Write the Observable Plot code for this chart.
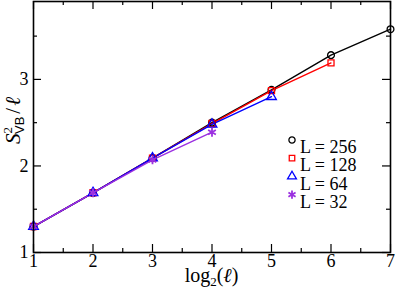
<!DOCTYPE html>
<html><head><meta charset="utf-8">
<script src="https://cdn.jsdelivr.net/npm/d3@7"></script>
<script src="https://cdn.jsdelivr.net/npm/@observablehq/plot@0.6"></script>
<style>
body{margin:0;background:#fff;}
svg text, svg tspan{font-family:'Liberation Serif', serif !important;}
svg tspan.sans{font-family:'Liberation Sans', sans-serif !important;}
</style>
</head><body><div id="chart"></div>
<script>
const xs = [1, 2, 3, 4, 5, 6, 7];
const seriesNames = ["L = 256", "L = 128", "L = 64", "L = 32"];
const s256 = [1.30, 1.69, 2.09, 2.50, 2.88, 3.28, 3.58];
const s128 = [1.30, 1.69, 2.09, 2.49, 2.87, 3.19];
const s64  = [1.30, 1.69, 2.09, 2.48, 2.80];
const s32  = [1.30, 1.69, 2.07, 2.39];
const colors = ["#000000", "#ff0000", "#0000ff", "#9b30e0"];
const symbols = ["circle", "square", "triangle", "asterisk"];
const xMajor = [1, 2, 3, 4, 5, 6, 7];
const xMinor = [1.5, 2.5, 3.5, 4.5, 5.5, 6.5];
const yMajor = [1, 2, 3];
const yMinor = [1.5, 2.5, 3.5];

const FONT = "Liberation Serif";
const SANS = "Liberation Sans";
const W = 395, H = 288, mL = 33, mR = 5, mT = 1, mB = 36;
const iw = W - mL - mR, ih = H - mT - mB;
const all = [s256, s128, s64, s32];
const rows = [];
all.forEach((arr, k) => arr.forEach((v, i) => rows.push({x: xs[i], y: v, s: seriesNames[k], k})));

const rad = [3.4, 3.4, 3.6, 4.2];
const marks = [];
const tk = {stroke: "#000", strokeWidth: 1.2};
marks.push(Plot.tickX(xMajor, {x: d => d, insetTop: ih - 8, ...tk}));
marks.push(Plot.tickX(xMajor, {x: d => d, insetBottom: ih - 8, ...tk}));
marks.push(Plot.tickX(xMinor, {x: d => d, insetTop: ih - 4, ...tk}));
marks.push(Plot.tickX(xMinor, {x: d => d, insetBottom: ih - 4, ...tk}));
marks.push(Plot.tickY(yMajor, {y: d => d, insetRight: iw - 8, ...tk}));
marks.push(Plot.tickY(yMajor, {y: d => d, insetLeft: iw - 8, ...tk}));
marks.push(Plot.tickY(yMinor, {y: d => d, insetRight: iw - 4, ...tk}));
marks.push(Plot.tickY(yMinor, {y: d => d, insetLeft: iw - 4, ...tk}));
marks.push(Plot.axisX(xMajor, {tickSize: 0, tickPadding: 2, label: null, fontSize: 18, fontFamily: FONT, tickFormat: d => String(d)}));
marks.push(Plot.axisY(yMajor, {tickSize: 0, tickPadding: 5, label: null, fontSize: 18, fontFamily: FONT, tickFormat: d => String(d)}));
all.forEach((arr, k) => {
  const d = rows.filter(r => r.k === k);
  marks.push(Plot.line(d, {x: "x", y: "y", stroke: colors[k], strokeWidth: 1.4}));
});
all.forEach((arr, k) => {
  const d = rows.filter(r => r.k === k);
  marks.push(Plot.dot(d, {x: "x", y: "y", stroke: colors[k], symbol: () => symbols[k], r: rad[k], strokeWidth: k === 3 ? 1.8 : 1.3, fill: "none"}));
});
seriesNames.forEach((name, k) => {
  marks.push(Plot.dot([name], {frameAnchor: "top-left", dx: 258.5, dy: 139.5 - mT + k * 18.2, symbol: () => symbols[k], stroke: colors[k], r: rad[k] - 0.3, strokeWidth: k === 3 ? 1.8 : 1.3, fill: "none"}));
  marks.push(Plot.text([name], {text: d => d, frameAnchor: "top-left", dx: 266.5, dy: 140 - mT + k * 18.2, textAnchor: "start", fontSize: 18, fontFamily: FONT, fill: "#000"}));
});
marks.push(Plot.frame({stroke: "#000", strokeWidth: 1.6}));

const plot = Plot.plot({
  width: W, height: H,
  marginLeft: mL, marginRight: mR, marginTop: mT, marginBottom: mB,
  x: {domain: [1, 7], axis: null},
  y: {domain: [1, 3.9], axis: null},
  style: {color: "#000", background: "#fff"},
  marks
});
document.getElementById("chart").appendChild(plot);
plot.setAttribute("font-family", FONT);

const svg = d3.select(plot);
const xl = svg.append("text").attr("x", mL + iw / 2).attr("y", 282).attr("text-anchor", "middle")
  .attr("font-family", FONT).attr("font-size", 20).attr("fill", "#000");
xl.append("tspan").text("log");
xl.append("tspan").attr("font-size", 13).attr("dy", 4).text("2");
xl.append("tspan").attr("dy", -4).text("(");
xl.append("tspan").attr("font-style", "italic").text("ℓ");
xl.append("tspan").text(")");
const yl = svg.append("text").attr("transform", `translate(20,${mT + ih / 2 - 6}) rotate(-90)`).attr("text-anchor", "middle")
  .attr("font-family", FONT).attr("font-size", 21).attr("fill", "#000");
yl.append("tspan").attr("font-style", "italic").text("S");
yl.append("tspan").attr("font-size", 13).attr("dy", -8).text("2");
yl.append("tspan").attr("class", "sans").attr("font-size", 13).attr("font-family", SANS).attr("dy", 12).attr("dx", -7).text("VB");
yl.append("tspan").attr("dy", -4).attr("dx", 3).text("/");
yl.append("tspan").attr("font-style", "italic").attr("dx", 2).text("ℓ");
</script></body></html>
